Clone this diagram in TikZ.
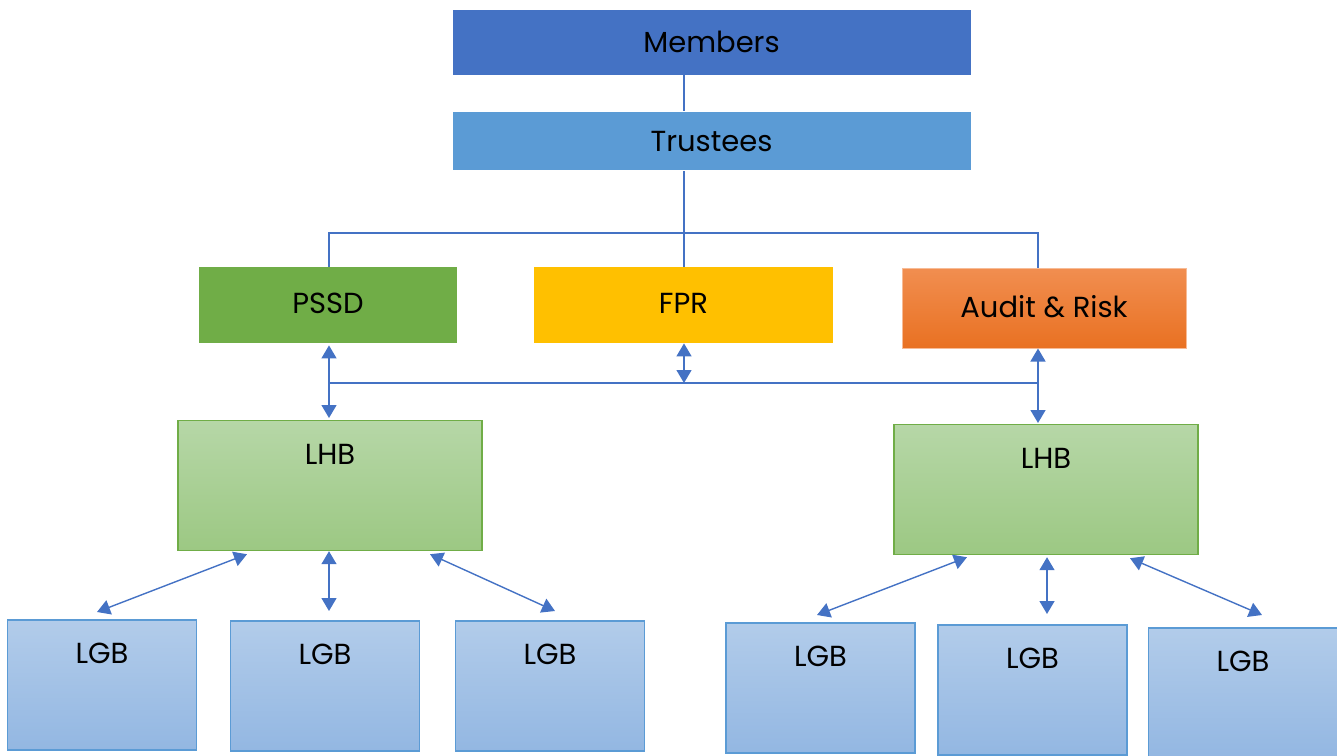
\documentclass[tikz,border=0pt]{standalone}
\usepackage{fontspec}
\setmainfont{Poppins}
\usepackage{xcolor}
\usepackage{tikz}
\usetikzlibrary{shapes,arrows.meta,positioning,calc}
\definecolor{memberblue}{HTML}{4472C4}
\definecolor{trusteeblue}{HTML}{5B9BD5}
\definecolor{pssdgreen}{HTML}{70AD47}
\definecolor{fpryellow}{HTML}{FFC000}
\definecolor{audittop}{HTML}{F18E50}
\definecolor{auditbottom}{HTML}{E97122}
\definecolor{hubtop}{HTML}{B6D7A7}
\definecolor{hubbottom}{HTML}{9CC883}
\definecolor{lgbtop}{HTML}{B2CCEA}
\definecolor{lgbbottom}{HTML}{93B7E2}
\definecolor{linkblue}{HTML}{4472C4}

\begin{document}
\begin{tikzpicture}[x=0.5pt,y=-0.5pt]
        % Define styles
        \tikzstyle{box} = [rectangle, inner sep=0pt, text centered, font=\fontsize{14.5}{17}\selectfont]
        \tikzstyle{board} = [box, minimum width=259.5pt, draw=white, line width=0.4pt]
        \tikzstyle{committee} = [box, minimum height=38pt]
        \tikzstyle{tall} = [box, anchor=north, minimum height=65pt, text height=22pt, text depth=43pt]
        \tikzstyle{hub} = [tall, minimum width=152pt, top color=hubtop, bottom color=hubbottom, draw=pssdgreen, line width=0.6pt]
        \tikzstyle{lgb} = [tall, minimum width=94.5pt, top color=lgbtop, bottom color=lgbbottom, draw=trusteeblue, line width=0.8pt]
        \tikzstyle{link} = [draw=linkblue, line width=0.7pt]
        \tikzstyle{arrow} = [link, {Triangle[length=6.5pt,width=7.5pt]}-{Triangle[length=6.5pt,width=7.5pt]}]

        \useasboundingbox (0,0) rectangle (1337,755);

        % Board
        \node (members) [board, minimum height=33pt, fill=memberblue] at (711.5,42) {Members};
        \node (trustees) [board, minimum height=29.5pt, fill=trusteeblue, below=18pt of members] {Trustees};

        % Committees
        \node (pssd) [committee, minimum width=129pt, fill=pssdgreen] at (328,305) {\raisebox{2pt}{PSSD}};
        \node (fpr) [committee, minimum width=149.5pt, fill=fpryellow] at (683.5,305) {\raisebox{2pt}{FPR}};
        \node (audit) [committee, minimum width=142pt, minimum height=40pt, top color=audittop, bottom color=auditbottom, draw=audittop!60!white, line width=0.5pt] at (1044,308) {\raisebox{2pt}{Audit \& Risk}};

        % Local hubs
        \node (lhbL) [hub] at (330,420) {LHB};
        \node (lhbR) [hub] at (1046,424) {LHB};

        % Local governing bodies
        \node (lgbA) [lgb] at (102,619) {LGB};
        \node (lgbB) [lgb] at (325,620) {LGB};
        \node (lgbC) [lgb] at (550,620) {LGB};
        \node (lgbD) [lgb] at (820.5,622) {LGB};
        \node (lgbE) [lgb] at (1032.5,624) {LGB};
        \node (lgbF) [lgb] at (1243,627) {LGB};

        % Tree lines
        \coordinate (spine) at (684,233);
        \coordinate (busL) at (329,383);
        \coordinate (busM) at (684,383);
        \coordinate (busR) at (1038,383);
        \draw[link] (members.south -| spine) -- (trustees.north -| spine);
        \draw[link] (trustees.south -| spine) -- (spine) -- (fpr.north -| spine);
        \draw[link] (pssd.north -| busL) |- (spine) -| (audit.north -| busR);
        \draw[link] (busL) -- (busR);

        % Links between committees and hubs
        \draw[arrow] ($(pssd.south -| busL)+(0,2)$) -- ($(lhbL.north -| busL)+(0,-2)$);
        \draw[arrow] (fpr.south -| busM) -- (busM);
        \draw[arrow] (audit.south -| busR) -- ($(lhbR.north -| busR)+(0,-1)$);

        % Links between hubs and LGBs
        \draw[arrow] ($(lhbL.south)+(-83,3)$) -- ($(lgbA.north)+(-5,-7)$);
        \draw[arrow] (lhbL.south -| busL) -- ($(lgbB.north -| busL)+(0,-9)$);
        \draw[arrow] ($(lhbL.south)+(100,3)$) -- ($(lgbC.north)+(5,-9)$);
        \draw[arrow] ($(lhbR.south)+(-79,2)$) -- ($(lgbD.north)+(-3.5,-7)$);
        \draw[arrow] ($(lhbR.south)+(1,2)$) -- ($(lgbE.north)+(14.5,-10)$);
        \draw[arrow] ($(lhbR.south)+(84,3)$) -- ($(lgbF.north)+(19,-12)$);

    \end{tikzpicture}
\end{document}
